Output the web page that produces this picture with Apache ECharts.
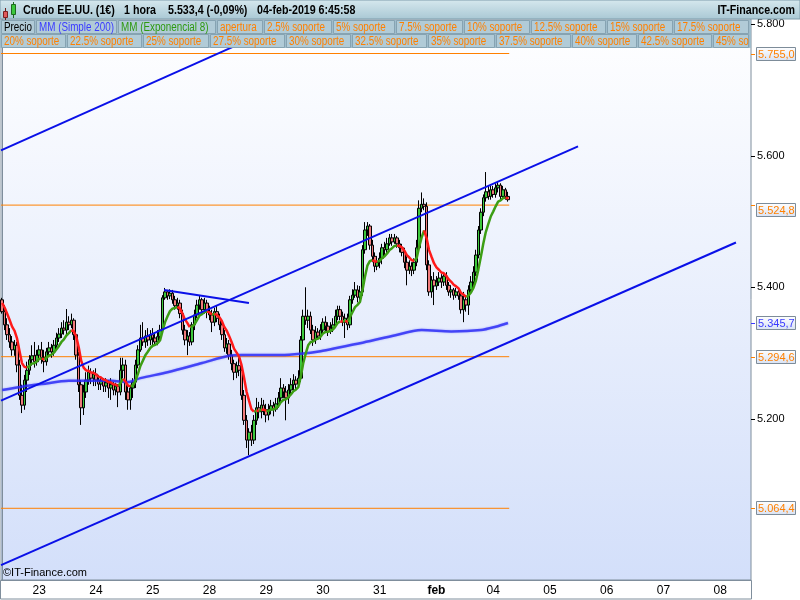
<!DOCTYPE html>
<html><head><meta charset="utf-8">
<script src="https://cdn.jsdelivr.net/npm/echarts@6/dist/echarts.min.js"></script>
<style>html,body{margin:0;padding:0;background:#fff}#c{width:800px;height:600px}</style>
</head><body><div id="c"></div>
<script>
// ---------- DATA ----------
const dayLabels = ['23','24','25','28','29','30','31','feb','04','05','06','07','08'];
const dayStartSlots = [15,38,61,84,107,130,153,176,199,222,245,268,291];
const totalSlots = 304;

const opens = [
5.381,5.363,5.343,5.328,5.317,5.305,5.312,5.282,5.236,5.221,
5.259,5.274,5.290,5.296,5.287,5.297,5.305,5.293,5.287,5.302,
5.308,5.302,5.312,5.323,5.329,5.338,5.335,5.347,5.343,5.350,
5.328,5.297,5.252,5.217,5.241,5.259,5.271,5.262,5.268,5.259,
5.253,5.258,5.250,5.255,5.247,5.252,5.244,5.250,5.241,5.274,
5.282,5.241,5.229,5.247,5.256,5.282,5.305,5.323,5.317,5.326,
5.320,5.328,5.323,5.317,5.325,5.335,5.384,5.393,5.387,5.391,
5.381,5.372,5.376,5.360,5.335,5.320,5.326,5.317,5.343,5.358,
5.373,5.381,5.366,5.376,5.363,5.358,5.347,5.363,5.353,5.343,
5.328,5.308,5.314,5.297,5.284,5.271,5.281,5.274,5.236,5.198,
5.168,5.180,5.168,5.198,5.217,5.211,5.221,5.214,5.206,5.214,
5.220,5.215,5.223,5.232,5.247,5.241,5.232,5.244,5.252,5.259,
5.253,5.262,5.320,5.356,5.350,5.356,5.335,5.320,5.332,5.326,
5.335,5.347,5.341,5.333,5.338,5.343,5.356,5.366,5.356,5.347,
5.353,5.343,5.381,5.388,5.396,5.385,5.393,5.457,5.487,5.493,
5.464,5.447,5.432,5.438,5.444,5.460,5.457,5.466,5.475,5.469,
5.475,5.466,5.460,5.453,5.438,5.426,5.432,5.426,5.438,5.460,
5.520,5.526,5.523,5.434,5.393,5.411,5.402,5.408,5.414,5.408,
5.417,5.403,5.393,5.396,5.388,5.393,5.387,5.366,5.381,5.373,
5.396,5.408,5.423,5.449,5.487,5.514,5.536,5.545,5.538,5.548,
5.541,5.551,5.555,5.538,5.548,5.538];
const closes = [
5.363,5.343,5.328,5.317,5.305,5.312,5.282,5.236,5.221,5.259,
5.274,5.290,5.296,5.287,5.297,5.305,5.293,5.287,5.302,5.308,
5.302,5.312,5.323,5.329,5.338,5.335,5.347,5.343,5.350,5.328,
5.297,5.252,5.217,5.241,5.259,5.271,5.262,5.268,5.259,5.253,
5.258,5.250,5.255,5.247,5.252,5.244,5.250,5.241,5.274,5.282,
5.241,5.229,5.247,5.256,5.282,5.305,5.323,5.317,5.326,5.320,
5.328,5.323,5.317,5.325,5.335,5.384,5.393,5.387,5.391,5.381,
5.372,5.376,5.360,5.335,5.320,5.326,5.317,5.343,5.358,5.373,
5.381,5.366,5.376,5.363,5.358,5.347,5.363,5.353,5.343,5.328,
5.308,5.314,5.297,5.284,5.271,5.281,5.274,5.236,5.198,5.168,
5.180,5.168,5.198,5.217,5.211,5.221,5.214,5.206,5.214,5.220,
5.215,5.223,5.232,5.247,5.241,5.232,5.244,5.252,5.259,5.253,
5.262,5.320,5.356,5.350,5.356,5.335,5.320,5.332,5.326,5.335,
5.347,5.341,5.333,5.338,5.343,5.356,5.366,5.356,5.347,5.353,
5.343,5.381,5.388,5.396,5.385,5.393,5.457,5.487,5.493,5.464,
5.447,5.432,5.438,5.444,5.460,5.457,5.466,5.475,5.469,5.475,
5.466,5.460,5.453,5.438,5.426,5.432,5.426,5.438,5.460,5.520,
5.526,5.523,5.434,5.393,5.411,5.402,5.408,5.414,5.408,5.417,
5.403,5.393,5.396,5.388,5.393,5.387,5.366,5.381,5.373,5.396,
5.408,5.423,5.449,5.487,5.514,5.536,5.545,5.538,5.548,5.541,
5.551,5.555,5.538,5.548,5.538,5.533];
const lows = [
5.360,5.335,5.320,5.308,5.296,5.296,5.271,5.229,5.209,5.214,
5.241,5.267,5.281,5.278,5.281,5.290,5.284,5.271,5.281,5.296,
5.293,5.296,5.305,5.317,5.323,5.328,5.329,5.335,5.338,5.320,
5.290,5.241,5.191,5.206,5.232,5.252,5.253,5.250,5.250,5.244,
5.244,5.241,5.241,5.232,5.229,5.236,5.236,5.218,5.236,5.262,
5.229,5.214,5.214,5.232,5.247,5.277,5.302,5.311,5.308,5.311,
5.312,5.312,5.311,5.312,5.317,5.329,5.381,5.381,5.382,5.375,
5.366,5.366,5.353,5.328,5.312,5.297,5.311,5.312,5.335,5.353,
5.366,5.360,5.360,5.353,5.350,5.332,5.341,5.347,5.335,5.320,
5.302,5.299,5.290,5.274,5.259,5.262,5.265,5.229,5.191,5.156,
5.145,5.159,5.162,5.191,5.201,5.201,5.206,5.195,5.198,5.207,
5.204,5.211,5.217,5.226,5.232,5.198,5.223,5.238,5.244,5.244,
5.247,5.256,5.314,5.343,5.338,5.329,5.311,5.314,5.320,5.320,
5.329,5.332,5.326,5.329,5.332,5.338,5.350,5.350,5.341,5.323,
5.335,5.338,5.375,5.384,5.377,5.381,5.387,5.451,5.478,5.457,
5.438,5.423,5.426,5.429,5.435,5.447,5.450,5.463,5.463,5.466,
5.460,5.453,5.447,5.429,5.403,5.420,5.417,5.420,5.432,5.453,
5.514,5.517,5.426,5.387,5.384,5.373,5.396,5.402,5.399,5.402,
5.396,5.387,5.384,5.381,5.384,5.381,5.360,5.347,5.363,5.358,
5.390,5.402,5.417,5.444,5.481,5.508,5.530,5.533,5.533,5.536,
5.536,5.544,5.533,5.533,5.533,5.530];
const highs = [
5.384,5.373,5.353,5.338,5.326,5.320,5.317,5.290,5.252,5.267,
5.287,5.297,5.312,5.317,5.305,5.312,5.317,5.305,5.308,5.317,
5.314,5.320,5.331,5.338,5.347,5.350,5.367,5.356,5.360,5.353,
5.335,5.302,5.259,5.252,5.271,5.281,5.277,5.274,5.277,5.267,
5.265,5.262,5.262,5.259,5.262,5.256,5.255,5.253,5.293,5.293,
5.290,5.252,5.252,5.262,5.290,5.312,5.343,5.347,5.335,5.338,
5.335,5.338,5.332,5.335,5.343,5.388,5.399,5.396,5.397,5.396,
5.387,5.384,5.381,5.366,5.343,5.335,5.332,5.347,5.366,5.381,
5.387,5.384,5.384,5.381,5.372,5.366,5.369,5.372,5.360,5.350,
5.335,5.323,5.320,5.305,5.290,5.287,5.293,5.281,5.244,5.206,
5.186,5.191,5.206,5.232,5.226,5.232,5.229,5.223,5.223,5.229,
5.226,5.232,5.241,5.262,5.253,5.250,5.253,5.262,5.268,5.265,
5.274,5.326,5.366,5.400,5.366,5.363,5.343,5.341,5.338,5.344,
5.353,5.356,5.347,5.347,5.353,5.366,5.372,5.372,5.363,5.360,
5.360,5.387,5.397,5.408,5.403,5.402,5.464,5.499,5.499,5.496,
5.472,5.453,5.447,5.453,5.466,5.469,5.475,5.481,5.481,5.481,
5.478,5.472,5.466,5.460,5.447,5.441,5.438,5.444,5.472,5.532,
5.544,5.535,5.529,5.441,5.417,5.423,5.417,5.423,5.420,5.423,
5.423,5.408,5.402,5.399,5.399,5.396,5.396,5.393,5.387,5.403,
5.417,5.432,5.457,5.493,5.520,5.541,5.575,5.554,5.554,5.554,
5.558,5.560,5.558,5.554,5.551,5.545];

const emaPeriod = 8;
const emaStart = 5.380;
const ma200Slots  = [0,8,16,27,44,51,56,67,81,92,97,113,121,129,137,145,158,170,182,194,200,205];
const ma200Values = [5.244,5.249,5.253,5.258,5.258,5.256,5.262,5.271,5.285,5.296,5.297,5.297,5.299,5.303,5.309,5.315,5.326,5.335,5.333,5.335,5.340,5.3457];

const trendLineStarts = [[-0.5,5.608],[-0.5,5.228],[-0.5,4.978],[65.6,5.396]];
const trendLineEnds   = [[93.5,5.765],[233.4,5.614],[297.4,5.468],[100.0,5.376]];

const levelValues = [5.7550,5.5248,5.2946,5.0644];
const levelLabels = ['5.755,0','5.524,8','5.294,6','5.064,4'];
const ma200Label = '5.345,7';
const yTickValues = [5.2,5.4,5.6,5.8];

const headerParts = ['Crudo EE.UU. (1€)','1 hora','5.533,4 (-0,09%)','04-feb-2019 6:45:58'];
const legendRow1 = ['Precio','MM (Simple 200)','MM (Exponencial 8)','apertura','2.5% soporte','5% soporte','7.5% soporte','10% soporte','12.5% soporte','15% soporte','17.5% soporte'];
const legendRow2 = ['20% soporte','22.5% soporte','25% soporte','27.5% soporte','30% soporte','32.5% soporte','35% soporte','37.5% soporte','40% soporte','42.5% soporte','45% soporte'];

// ---------- LAYOUT / STYLE ----------
const SANS = '"Liberation Sans",Arial,sans-serif';
const NARROW_SCALE = 0.82;
const ORANGE = '#ff8000';
const yMin = 4.9555, yMax = 5.8074;
const headerX = [23,124,168,257];
const row1X = [1,36,118,217,264,333,396,464,531,607,674,750];
const row2X = [1,67,143,210,286,352,428,496,572,638,713,750];
const row1Colors = ['#000000','#3a3aff','#2e9a10'];
const labelShift = [0,5,0,0];

const categories = Array.from({length: totalSlots}, (_, i) => String(i));
const candleData = opens.map((o, i) => [o, closes[i], lows[i], highs[i]]);

// EMA 8 of the read closes, split into rising (green) and falling (red) runs
const ema = [];
let prev = emaStart;
const k = 2 / (emaPeriod + 1);
closes.forEach(c => { prev = c * k + prev * (1 - k); ema.push(prev); });
const emaUp = [], emaDown = [];
for (let i = 1; i < ema.length; i++) {
  const up = ema[i] >= ema[i - 1];
  const tgt = up ? emaUp : emaDown, oth = up ? emaDown : emaUp;
  const prevUp = i > 1 ? ema[i - 1] >= ema[i - 2] : !up;
  if (prevUp !== up) { tgt.push([i - 1, ema[i - 1]]); oth.push([i - 0.5, null]); }
  tgt.push([i, ema[i]]);
}

const lastSlot = opens.length - 0.5;
const series = [];
levelValues.forEach(v => series.push({
  type: 'line', xAxisIndex: 1, yAxisIndex: 0, symbol: 'none', silent: true, z: 1,
  data: [[-0.5, v], [lastSlot, v]], lineStyle: {color: ORANGE, width: 1}
}));
series.push({
  type: 'candlestick', xAxisIndex: 0, yAxisIndex: 0, data: candleData, barWidth: 3, z: 3,
  itemStyle: {color: '#3cc83c', color0: '#f07b7b', borderColor: '#000', borderColor0: '#000', borderWidth: 1}
});
series.push({
  type: 'line', xAxisIndex: 1, yAxisIndex: 0, symbol: 'none', z: 4, smooth: 0.3,
  data: ma200Slots.map((s, i) => [s, ma200Values[i]]),
  lineStyle: {color: 'rgba(40,40,245,0.8)', width: 2.5, shadowColor: 'rgba(60,60,255,0.5)', shadowBlur: 2}
});
series.push({type: 'line', xAxisIndex: 1, yAxisIndex: 0, symbol: 'none', z: 5, data: emaUp, connectNulls: false, lineStyle: {color: '#3c9e14', width: 2.5}});
series.push({type: 'line', xAxisIndex: 1, yAxisIndex: 0, symbol: 'none', z: 5, data: emaDown, connectNulls: false, lineStyle: {color: '#ff1a1a', width: 2.5}});
trendLineStarts.forEach((p, i) => series.push({
  type: 'line', xAxisIndex: 1, yAxisIndex: 0, symbol: 'none', z: 6,
  data: [p, trendLineEnds[i]], lineStyle: {color: '#0a10e8', width: 2}
}));

const chart = echarts.init(document.getElementById('c'), null, {renderer: 'canvas'});
const option = {
  animation: false,
  backgroundColor: '#ffffff',
  grid: {
    left: 1, right: 49, top: 19, bottom: 20, show: true, borderColor: '#7f8e9c', borderWidth: 1,
    backgroundColor: new echarts.graphic.LinearGradient(0, 0, 0, 1, [{offset: 0, color: '#ffffff'}, {offset: 1, color: '#d3dffa'}])
  },
  xAxis: [{
    type: 'category', data: categories, boundaryGap: true,
    axisLine: {show: true, lineStyle: {color: '#7f8e9c'}}, axisTick: {show: false}, splitLine: {show: false},
    axisLabel: {
      interval: (idx) => dayStartSlots.indexOf(idx) >= 0, margin: 5,
      fontFamily: SANS, fontSize: 12, color: '#000',
      formatter: (val, idx) => {
        const d = dayStartSlots.indexOf(Number(val));
        if (d < 0) return '';
        return dayLabels[d] === 'feb' ? '{b|feb}' : dayLabels[d];
      },
      rich: {b: {fontFamily: SANS, fontSize: 12, fontWeight: 'bold', color: '#000'}}
    }
  }, {
    type: 'value', min: -0.5, max: totalSlots - 0.5, show: false
  }],
  yAxis: [{
    type: 'value', position: 'right', min: yMin, max: yMax, scale: true,
    axisLine: {show: true, lineStyle: {color: '#7f8e9c'}},
    axisTick: {show: false},
    splitLine: {show: false},
    axisLabel: {customValues: yTickValues, margin: 6, fontFamily: SANS, fontSize: 11, color: '#000', formatter: v => v.toFixed(3)}
  }],
  series: series
};
chart.setOption(option);

// ---------- overlays: header, legend rows, boxed price labels ----------
const g = [];
g.push({type: 'rect', z: 100, shape: {x: 0, y: 0, width: 800, height: 19},
  style: {fill: new echarts.graphic.LinearGradient(0, 0, 0, 1, [{offset: 0, color: '#d6e8ee'}, {offset: 1, color: '#a9c8d4'}]), stroke: '#7f9cab', lineWidth: 1}});
// candle icon
g.push({type: 'line', z: 101, shape: {x1: 5.5, y1: 8, x2: 5.5, y2: 20}, style: {stroke: '#6a2020', lineWidth: 1}});
g.push({type: 'rect', z: 102, shape: {x: 3.5, y: 11.5, width: 4, height: 6}, style: {fill: '#e05a5a', stroke: '#7a2020', lineWidth: 1}});
g.push({type: 'line', z: 101, shape: {x1: 13.5, y1: 2, x2: 13.5, y2: 18}, style: {stroke: '#1f6a1f', lineWidth: 1}});
g.push({type: 'rect', z: 102, shape: {x: 11.5, y: 4.5, width: 4, height: 10}, style: {fill: '#3cc83c', stroke: '#1f6a1f', lineWidth: 1}});
headerParts.forEach((t, i) => g.push({type: 'text', z: 103, x: headerX[i], y: 10, scaleX: NARROW_SCALE,
  style: {text: t, fill: '#000', font: 'bold 13px ' + SANS, textVerticalAlign: 'middle'}}));
g.push({type: 'text', z: 103, x: 795, y: 10, scaleX: NARROW_SCALE,
  style: {text: 'IT-Finance.com', fill: '#000', font: 'bold 13px ' + SANS, textAlign: 'right', textVerticalAlign: 'middle'}});

function legendRow(items, xs, y, colorFor) {
  g.push({type: 'rect', z: 100, shape: {x: 0, y: y, width: 751, height: 14}, style: {fill: '#9fbccb', stroke: 'none'}});
  items.forEach((t, i) => {
    const x0 = xs[i], x1 = Math.min(xs[i + 1] - 1, 750);
    g.push({type: 'rect', z: 101, shape: {x: x0 + 0.5, y: y + 0.5, width: x1 - x0 - 1, height: 13},
      style: {fill: '#b1cbd7', stroke: '#86a3b2', lineWidth: 1}});
    const st = {text: t, fill: colorFor(i), font: '12px ' + SANS, textVerticalAlign: 'middle'};
    if (xs[i + 1] >= 750) { st.width = (x1 - x0 - 2) / NARROW_SCALE; st.overflow = 'truncate'; st.ellipsis = ''; }
    g.push({type: 'text', z: 102, x: x0 + 3, y: y + 7.5, scaleX: NARROW_SCALE, style: st});
  });
}
legendRow(legendRow1, row1X, 20, i => i < 3 ? row1Colors[i] : ORANGE);
legendRow(legendRow2, row2X, 34, () => ORANGE);

function tick(v, color) {
  const y = Math.round(chart.convertToPixel({yAxisIndex: 0}, v));
  g.push({type: 'line', z: 100, shape: {x1: 751, y1: y + 0.5, x2: 755, y2: y + 0.5}, style: {stroke: color, lineWidth: 1}});
  return y;
}
yTickValues.forEach(v => tick(v, '#000'));
function boxLabel(v, text, color, shift) {
  const y = tick(v, color) + shift;
  g.push({type: 'rect', z: 100, shape: {x: 756.5, y: y - 6.5, width: 39, height: 13},
    style: {fill: new echarts.graphic.LinearGradient(0, 0, 0, 1, [{offset: 0, color: '#ffffff'}, {offset: 1, color: '#d8e2f4'}]), stroke: '#7d8c99', lineWidth: 1}});
  g.push({type: 'text', z: 101, x: 758, y: y + 0.5, style: {text: text, fill: color, font: '11px ' + SANS, textVerticalAlign: 'middle'}});
}
levelValues.forEach((v, i) => boxLabel(v, levelLabels[i], ORANGE, labelShift[i]));
boxLabel(ma200Values[ma200Values.length - 1], ma200Label, '#3a3aff', 0);

g.push({type: 'text', z: 100, x: 3, y: 573, style: {text: '©IT-Finance.com', fill: '#000', font: '11px ' + SANS, textVerticalAlign: 'middle'}});
g.push({type: 'rect', z: 99, shape: {x: 0.5, y: 580.5, width: 751, height: 18.5}, style: {fill: 'none', stroke: '#7f8e9c', lineWidth: 1}});

chart.setOption({graphic: {elements: g}});
</script>
</body></html>
